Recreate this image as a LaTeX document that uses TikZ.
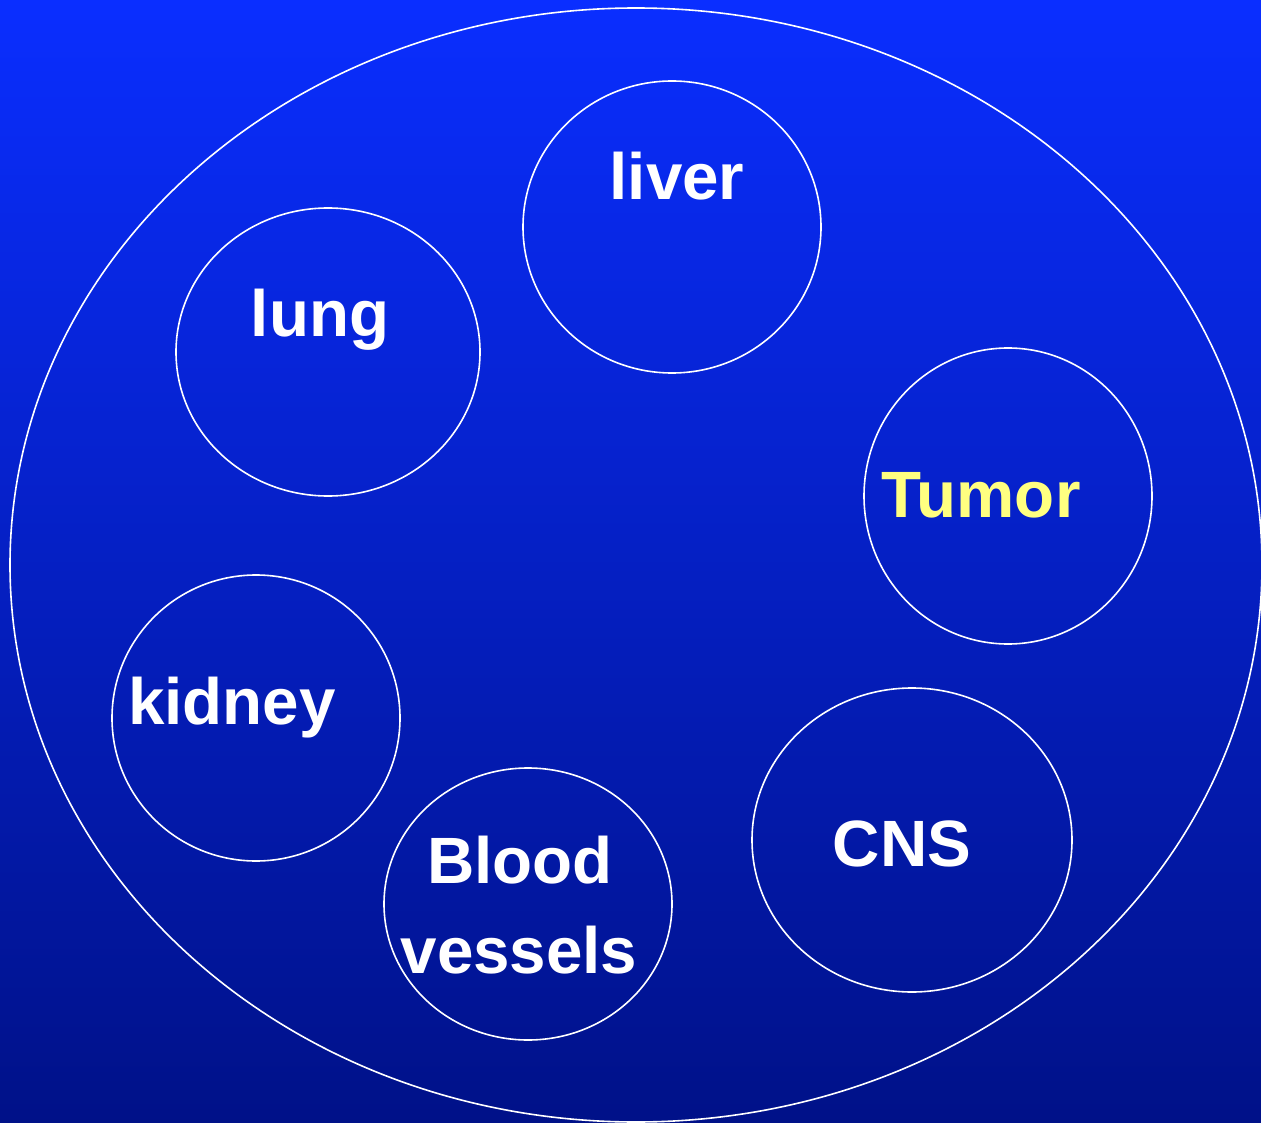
\documentclass[tikz,border=0pt]{standalone}
\usepackage{fontspec}
\setmainfont{Liberation Sans}
\definecolor{topblue}{RGB}{10,46,255}
\definecolor{botblue}{RGB}{0,17,136}
\definecolor{tumoryellow}{RGB}{255,255,128}
\begin{document}
\begin{tikzpicture}[x=1pt,y=-1pt,
  organ/.style={draw=white,line width=1.6pt},
  lbl/.style={text=white,font=\fontsize{65.5}{65.5}\selectfont\bfseries,anchor=base,inner sep=0pt}]
\shade[top color=topblue,bottom color=botblue] (0,0) rectangle (1261,1123);
\useasboundingbox (0,0) rectangle (1261,1123);
\draw[organ] (636,565) ellipse [x radius=626,y radius=557];
\draw[organ] (672,227) ellipse [x radius=149,y radius=146];
\draw[organ] (328,352) ellipse [x radius=152,y radius=144];
\draw[organ] (1008,496) ellipse [x radius=144,y radius=148];
\draw[organ] (256,718) ellipse [x radius=144,y radius=143];
\draw[organ] (528,904) ellipse [x radius=144,y radius=136];
\draw[organ] (912,840) ellipse [x radius=160,y radius=152];
\node[lbl] (liver) at (677,200) {liver};
\node[lbl] (lung) at (320,337) {lung};
\node[lbl,text=tumoryellow] (tumor) at (981,517) {Tumor};
\node[lbl] (kidney) at (232,724) {kidney};
\node[lbl] (blood) at (520,883) {Blood};
\node[lbl] (vessels) at (519,973) {vessels};
\node[lbl] (cns) at (902,866) {CNS};
\end{tikzpicture}
\end{document}
